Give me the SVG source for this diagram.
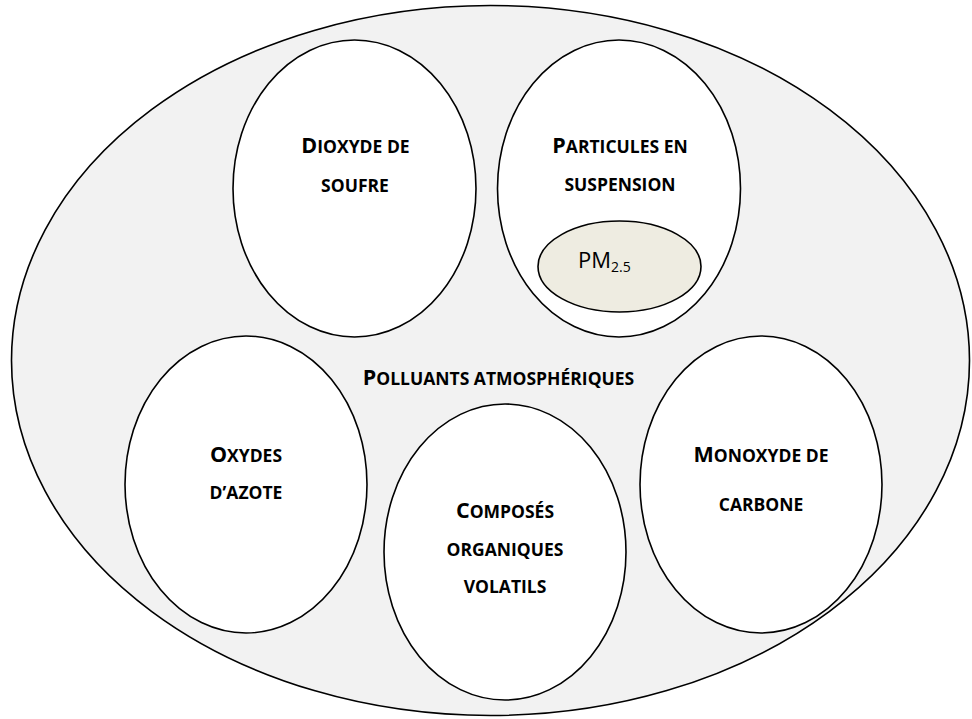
<svg xmlns="http://www.w3.org/2000/svg" width="972" height="719" viewBox="0 0 972 719">
<style>
.bg{fill:#ffffff}
.outer{fill:#f2f2f2;stroke:#000;stroke-width:1.6}
.node{fill:#ffffff;stroke:#000;stroke-width:1.6}
.pm{fill:#eeece1;stroke:#000;stroke-width:1.6}
.lbl{font-family:"Open Sans","Liberation Sans",sans-serif;font-weight:bold;font-size:17.5px;fill:#000;text-anchor:middle}
.cap{font-size:21.5px}
.reg{font-family:"Open Sans","Liberation Sans",sans-serif;font-size:22px;fill:#000}
.sub{font-size:14px}
</style>
<rect class="bg" x="0" y="0" width="972" height="719"/>
<g id="polluants-atmospheriques">
<ellipse class="outer" cx="490.5" cy="360.5" rx="479" ry="355"/>
<text class="lbl" x="498.5" y="385"><tspan class="cap">P</tspan>OLLUANTS ATMOSPHÉRIQUES</text>
</g>
<g id="dioxyde-de-soufre">
<ellipse class="node" cx="354.5" cy="188.5" rx="121.5" ry="148.5"/>
<text class="lbl" x="355.5" y="153"><tspan class="cap">D</tspan>IOXYDE DE</text>
<text class="lbl" x="355" y="192">SOUFRE</text>
</g>
<g id="particules-en-suspension">
<ellipse class="node" cx="619" cy="188.5" rx="121.5" ry="148.5"/>
<text class="lbl" x="620" y="153"><tspan class="cap">P</tspan>ARTICULES EN</text>
<text class="lbl" x="620" y="191">SUSPENSION</text>
<g id="pm25">
<ellipse class="pm" cx="619.5" cy="266.5" rx="81.5" ry="45.5"/>
<text class="reg" x="578" y="268">PM<tspan class="sub" dy="4">2.5</tspan></text>
</g>
</g>
<g id="oxydes-d-azote">
<ellipse class="node" cx="246" cy="484.5" rx="121" ry="148.5"/>
<text class="lbl" x="246" y="462"><tspan class="cap">O</tspan>XYDES</text>
<text class="lbl" x="246" y="499">D’AZOTE</text>
</g>
<g id="composes-organiques-volatils">
<ellipse class="node" cx="505" cy="552" rx="121" ry="148"/>
<text class="lbl" x="505" y="518"><tspan class="cap">C</tspan>OMPOSÉS</text>
<text class="lbl" x="505" y="556">ORGANIQUES</text>
<text class="lbl" x="505" y="593">VOLATILS</text>
</g>
<g id="monoxyde-de-carbone">
<ellipse class="node" cx="761" cy="484.5" rx="121" ry="148.5"/>
<text class="lbl" x="761" y="462"><tspan class="cap">M</tspan>ONOXYDE DE</text>
<text class="lbl" x="761" y="511">CARBONE</text>
</g>
<g id="connectors"/>
</svg>
